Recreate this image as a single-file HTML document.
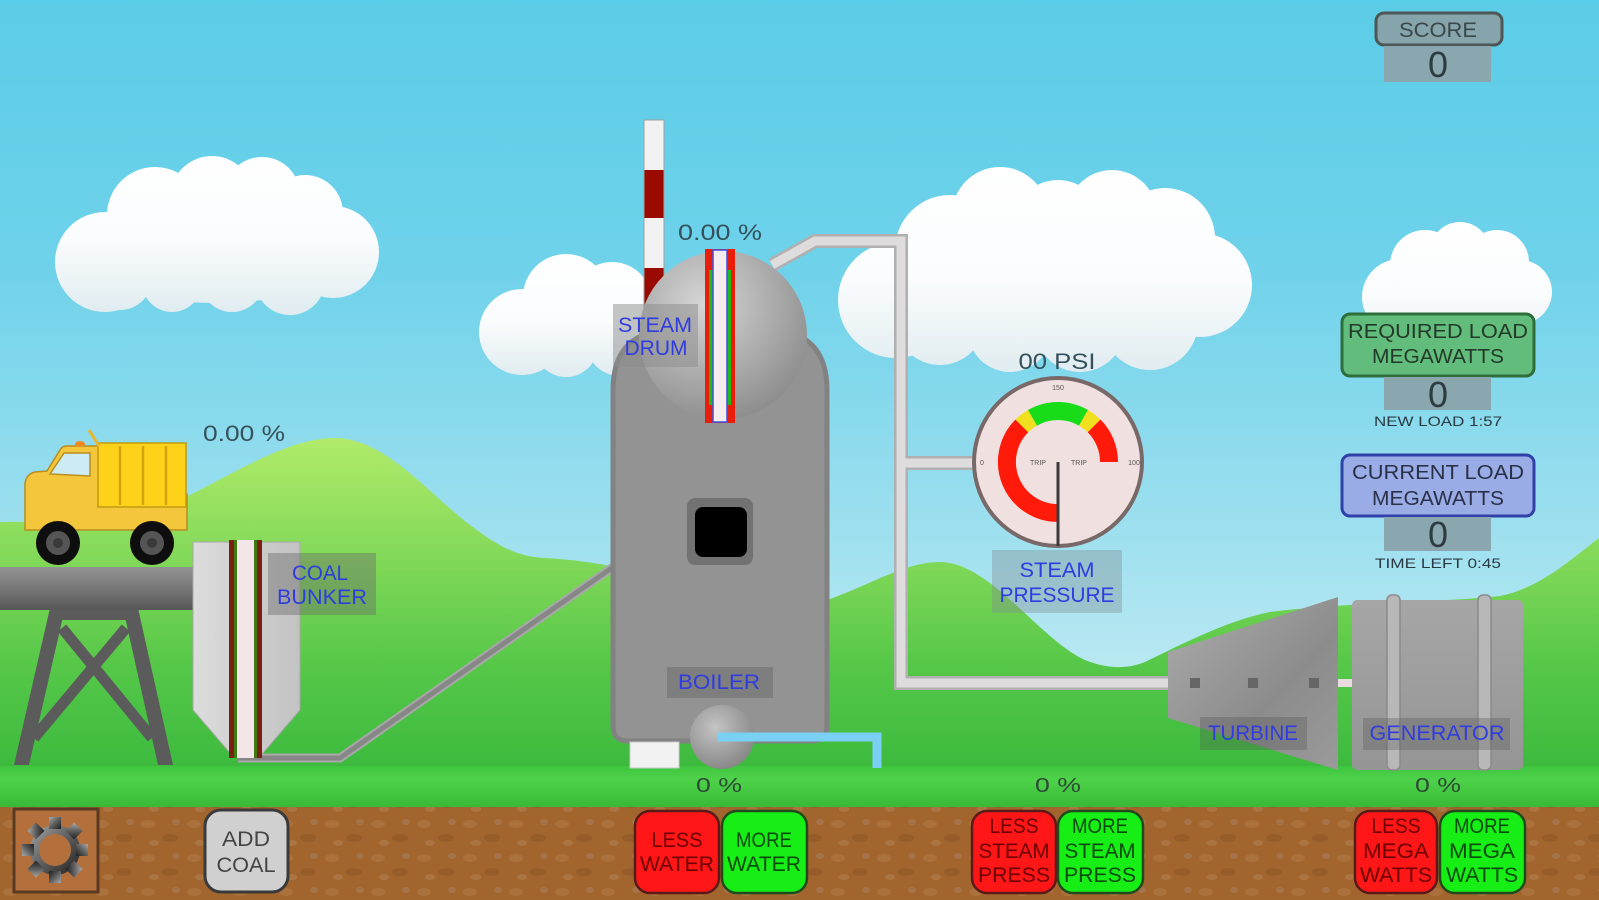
<!DOCTYPE html>
<html><head><meta charset="utf-8"><style>
html,body{margin:0;padding:0;width:1599px;height:900px;overflow:hidden;background:#6fd3ea}
svg{display:block}
text{font-family:"Liberation Sans",Arial,sans-serif}
</style></head><body>
<svg width="1599" height="900" viewBox="0 0 1599 900" xmlns="http://www.w3.org/2000/svg">
<defs>
 <linearGradient id="sky" x1="0" y1="0" x2="0" y2="1">
  <stop offset="0" stop-color="#5BCCE7"/>
  <stop offset="0.3" stop-color="#6FD2EA"/>
  <stop offset="0.6" stop-color="#9FE0EF"/>
  <stop offset="0.85" stop-color="#CDEFF5"/>
  <stop offset="1" stop-color="#DDF4F7"/>
 </linearGradient>
 <linearGradient id="hill" gradientUnits="userSpaceOnUse" x1="0" y1="430" x2="0" y2="770">
  <stop offset="0" stop-color="#B4EC6C"/>
  <stop offset="0.35" stop-color="#86DA5A"/>
  <stop offset="0.7" stop-color="#55C748"/>
  <stop offset="1" stop-color="#3CBA3E"/>
 </linearGradient>
 <linearGradient id="c1" gradientUnits="userSpaceOnUse" x1="0" y1="150" x2="0" y2="312"><stop offset="0" stop-color="#FFFFFF"/><stop offset="0.55" stop-color="#FAFCFD"/><stop offset="1" stop-color="#E0ECF0"/></linearGradient>
 <linearGradient id="c2" gradientUnits="userSpaceOnUse" x1="0" y1="253" x2="0" y2="377"><stop offset="0" stop-color="#FFFFFF"/><stop offset="0.55" stop-color="#FAFCFD"/><stop offset="1" stop-color="#E0ECF0"/></linearGradient>
 <linearGradient id="c3" gradientUnits="userSpaceOnUse" x1="0" y1="166" x2="0" y2="374"><stop offset="0" stop-color="#FFFFFF"/><stop offset="0.55" stop-color="#FAFCFD"/><stop offset="1" stop-color="#E0ECF0"/></linearGradient>
 <linearGradient id="c4" gradientUnits="userSpaceOnUse" x1="0" y1="222" x2="0" y2="345"><stop offset="0" stop-color="#FFFFFF"/><stop offset="0.6" stop-color="#FAFCFD"/><stop offset="1" stop-color="#E4EEF2"/></linearGradient>
 <linearGradient id="grass" x1="0" y1="0" x2="0" y2="1">
  <stop offset="0" stop-color="#3FC43E"/>
  <stop offset="0.3" stop-color="#4ED24A"/>
  <stop offset="0.6" stop-color="#43C740"/>
  <stop offset="1" stop-color="#38B537"/>
 </linearGradient>
 <pattern id="soil" width="46" height="34" patternUnits="userSpaceOnUse">
  <rect width="46" height="34" fill="#A2652D"/>
  <ellipse cx="10" cy="8" rx="7" ry="4" fill="#B07A48" opacity="0.6"/>
  <ellipse cx="32" cy="22" rx="8" ry="4" fill="#8E5828" opacity="0.6"/>
  <ellipse cx="38" cy="6" rx="4" ry="3" fill="#A88468" opacity="0.5"/>
  <ellipse cx="16" cy="27" rx="5" ry="3" fill="#B3855A" opacity="0.5"/>
 </pattern>
 <linearGradient id="beam" x1="0" y1="0" x2="0" y2="1">
  <stop offset="0" stop-color="#939393"/><stop offset="0.5" stop-color="#777"/><stop offset="1" stop-color="#575757"/>
 </linearGradient>
 <linearGradient id="bunk" x1="0" y1="0" x2="1" y2="0">
  <stop offset="0" stop-color="#DCDCDC"/><stop offset="1" stop-color="#C2C2C2"/>
 </linearGradient>
 <radialGradient id="drum" cx="0.38" cy="0.32" r="0.75">
  <stop offset="0" stop-color="#D6D6D6"/><stop offset="0.5" stop-color="#B0B0B0"/><stop offset="1" stop-color="#8A8A8A"/>
 </radialGradient>
 <radialGradient id="pump" cx="0.4" cy="0.35" r="0.7">
  <stop offset="0" stop-color="#C4C4C4"/><stop offset="1" stop-color="#858585"/>
 </radialGradient>
 <linearGradient id="turb" x1="0" y1="0" x2="1" y2="1">
  <stop offset="0" stop-color="#ACACAC"/><stop offset="0.6" stop-color="#8C8C8C"/><stop offset="1" stop-color="#9A9A9A"/>
 </linearGradient>
 <linearGradient id="gen" x1="0" y1="0" x2="0" y2="1">
  <stop offset="0" stop-color="#A6A6A6"/><stop offset="1" stop-color="#959595"/>
 </linearGradient>
 <linearGradient id="gear" x1="0" y1="0" x2="1" y2="1">
  <stop offset="0" stop-color="#A8A8A8"/><stop offset="0.5" stop-color="#5E5E5E"/><stop offset="1" stop-color="#1E1E1E"/>
 </linearGradient>
</defs>

<!-- sky -->
<rect x="0" y="0" width="1599" height="900" fill="url(#sky)"/>

<!-- clouds -->
<g fill="url(#c1)">
 <ellipse cx="215" cy="258" rx="130" ry="45"/>
 <circle cx="105" cy="262" r="50"/>
 <circle cx="155" cy="215" r="48"/>
 <circle cx="212" cy="198" r="42"/>
 <circle cx="262" cy="195" r="38"/>
 <circle cx="305" cy="213" r="38"/>
 <circle cx="333" cy="252" r="46"/>
 <circle cx="290" cy="280" r="35"/>
 <circle cx="232" cy="280" r="32"/>
 <circle cx="172" cy="282" r="30"/>
 <circle cx="120" cy="278" r="32"/>
</g>
<g fill="url(#c2)">
 <circle cx="522" cy="332" r="43"/>
 <circle cx="566" cy="297" r="43"/>
 <circle cx="612" cy="302" r="40"/>
 <circle cx="620" cy="342" r="34"/>
 <circle cx="566" cy="345" r="32"/>
</g>
<g fill="url(#c3)">
 <ellipse cx="1045" cy="288" rx="175" ry="60"/>
 <circle cx="896" cy="300" r="58"/>
 <circle cx="950" cy="250" r="55"/>
 <circle cx="1000" cy="215" r="48"/>
 <circle cx="1058" cy="225" r="45"/>
 <circle cx="1112" cy="215" r="45"/>
 <circle cx="1165" cy="238" r="50"/>
 <circle cx="1200" cy="285" r="52"/>
 <circle cx="1150" cy="322" r="48"/>
 <circle cx="1080" cy="327" r="45"/>
 <circle cx="1010" cy="330" r="42"/>
 <circle cx="940" cy="320" r="45"/>
</g>
<g fill="url(#c4)">
 <circle cx="1400" cy="297" r="38"/>
 <circle cx="1425" cy="265" r="35"/>
 <circle cx="1460" cy="252" r="30"/>
 <circle cx="1497" cy="262" r="32"/>
 <circle cx="1520" cy="292" r="32"/>
 <circle cx="1460" cy="305" r="45"/>
</g>

<!-- hills -->
<path fill="url(#hill)" d="M0,522 C40,520 75,530 110,524 C150,518 168,506 190,495 C240,470 290,438 335,438 C385,438 430,495 470,525 C500,548 520,557 545,558 C580,560 600,564 620,568 L827,600 C870,585 905,562 940,562 C990,562 1040,640 1085,660 C1105,668 1125,670 1145,662 C1190,640 1230,620 1270,612 C1350,602 1450,602 1500,596 C1540,588 1570,560 1599,538 L1599,900 L0,900 Z"/>

<!-- ground -->
<rect x="0" y="766" width="1599" height="44" fill="url(#grass)"/>
<rect x="0" y="807" width="1599" height="93" fill="url(#soil)"/>

<!-- trestle -->
<g fill="#5B5B5B">
 <polygon points="50,608 65,608 29,765 14,765"/>
 <polygon points="123,608 138,608 173,765 158,765"/>
 <rect x="50" y="606" width="88" height="14"/>
</g>
<g stroke="#5B5B5B" stroke-width="11">
 <line x1="62" y1="628" x2="152" y2="738"/>
 <line x1="126" y1="628" x2="34" y2="738"/>
</g>
<rect x="0" y="567" width="194" height="43" fill="url(#beam)"/>

<!-- truck -->
<g stroke="#B88E1E" stroke-width="1.5">
 <path d="M25,530 L25,484 Q26,474 35,472 L47,471 L60,450 Q62,446 67,446 L99,446 L99,494 L187,494 L187,530 Z" fill="#F4C63C"/>
 <polygon points="50,474 64,453 90,453 90,476" fill="#CDEBF5"/>
 <rect x="98" y="443" width="88" height="64" fill="#FFD21A" stroke="#C49A10"/>
 <line x1="89" y1="430" x2="99" y2="446" stroke="#E8B82A" stroke-width="3"/>
</g>
<g stroke="#D1A512" stroke-width="2.5">
 <line x1="120" y1="446" x2="120" y2="505"/>
 <line x1="143" y1="446" x2="143" y2="505"/>
 <line x1="166" y1="446" x2="166" y2="505"/>
</g>
<ellipse cx="80" cy="444" rx="5" ry="3" fill="#F08A20"/>
<g>
 <circle cx="58" cy="543" r="22" fill="#0E0E0E"/><circle cx="58" cy="543" r="12" fill="#555"/><circle cx="58" cy="543" r="5" fill="#3A3A3A"/>
 <circle cx="152" cy="543" r="22" fill="#0E0E0E"/><circle cx="152" cy="543" r="12" fill="#555"/><circle cx="152" cy="543" r="5" fill="#3A3A3A"/>
</g>

<!-- conveyor -->
<polyline points="238,758 340,758 613,567" fill="none" stroke="#A8A8A8" stroke-width="9" stroke-linejoin="round"/>
<polyline points="238,758 340,758 613,567" fill="none" stroke="#878787" stroke-width="5" stroke-linejoin="round"/>

<!-- coal bunker -->
<polygon points="193,542 300,542 300,710 263,753 230,753 193,710" fill="url(#bunk)" stroke="#A8A8A8" stroke-width="1"/>
<rect x="229" y="540" width="33" height="218" fill="#7A2010"/>
<rect x="234" y="540" width="23" height="218" fill="#3F7A12"/>
<rect x="237" y="540" width="17" height="218" fill="#F3E6E8"/>

<!-- chimney -->
<rect x="644" y="120" width="20" height="190" fill="#F2F2F2" stroke="#A0A0A0" stroke-width="1"/>
<rect x="644.5" y="170" width="19" height="48" fill="#9A0A00"/>
<rect x="644.5" y="268" width="19" height="42" fill="#9A0A00"/>

<!-- steam pipe -->
<g fill="none" stroke-linejoin="miter">
 <path d="M772,265 L815,241 L901,241 L901,683 L1170,683 M901,463 L976,463" stroke="#B0B0B0" stroke-width="14"/>
 <path d="M772,265 L815,241 L901,241 L901,683 L1170,683 M901,463 L976,463" stroke="#DEDCDC" stroke-width="9"/>
</g>

<!-- boiler -->
<path d="M613,726 L613,390 Q613,330 673,330 L767,330 Q827,330 827,390 L827,726 Q827,741 812,741 L628,741 Q613,741 613,726 Z" fill="#939393" stroke="#828282" stroke-width="5"/>
<rect x="687" y="498" width="66" height="67" rx="8" fill="#727272"/>
<rect x="695" y="507" width="52" height="50" rx="8" fill="#000"/>
<rect x="630" y="742" width="49" height="26" fill="#F2F2F2" stroke="#C8C8C8" stroke-width="1"/>

<!-- drum -->
<circle cx="723" cy="335" r="84" fill="url(#drum)"/>
<rect x="705" y="249" width="30" height="174" fill="#E81E0A"/>
<rect x="709" y="270" width="22" height="135" fill="#22B81A"/>
<rect x="713" y="250" width="14" height="172" fill="#F4ECEE" stroke="#4050E0" stroke-width="1.5"/>

<!-- pump + water pipe -->
<circle cx="722" cy="737" r="32" fill="url(#pump)"/>
<polyline points="717,737 877,737 877,768" fill="none" stroke="#7ACFF4" stroke-width="9" stroke-linejoin="miter"/>

<!-- gauge -->
<circle cx="1058" cy="462" r="84" fill="#F1E0E0" stroke="#786868" stroke-width="4"/>
<g fill="none" stroke-width="18">
 <path d="M1058,513 A51,51 0 0 1 1021.9,425.9" stroke="#FF1A0A"/>
 <path d="M1021.9,425.9 A51,51 0 0 1 1032.5,417.8" stroke="#F0E020"/>
 <path d="M1032.5,417.8 A51,51 0 0 1 1083.5,417.8" stroke="#18DC18"/>
 <path d="M1083.5,417.8 A51,51 0 0 1 1094.1,425.9" stroke="#F0E020"/>
 <path d="M1094.1,425.9 A51,51 0 0 1 1109,462" stroke="#FF1A0A"/>
</g>
<line x1="1058" y1="462" x2="1058" y2="546" stroke="#3A3A3A" stroke-width="3"/>
<g fill="#555" font-size="7" text-anchor="middle">
 <text x="1038" y="465">TRIP</text>
 <text x="1079" y="465">TRIP</text>
 <text x="982" y="465">0</text>
 <text x="1134" y="465">100</text>
 <text x="1058" y="390">150</text>
</g>

<!-- turbine & generator -->
<rect x="1336" y="679" width="18" height="8" fill="#E8DCE0"/>
<polygon points="1168,652 1338,597 1338,770 1168,718" fill="url(#turb)"/>
<g fill="#666">
 <rect x="1190" y="678" width="10" height="10"/>
 <rect x="1248" y="678" width="10" height="10"/>
 <rect x="1309" y="678" width="10" height="10"/>
</g>
<rect x="1352" y="600" width="171" height="170" rx="5" fill="url(#gen)"/>
<g fill="#B8B8B8" stroke="#8A8A8A" stroke-width="1.5">
 <rect x="1387" y="595" width="13" height="175" rx="5"/>
 <rect x="1478" y="595" width="13" height="175" rx="5"/>
</g>

<!-- labels -->
<rect x="268" y="553" width="108" height="62" fill="rgba(105,105,105,0.42)"/>
<rect x="613" y="304" width="85" height="63" fill="rgba(140,140,140,0.5)"/>
<rect x="667" y="667" width="106" height="31" fill="rgba(80,80,80,0.3)"/>
<rect x="992" y="550" width="130" height="63" fill="rgba(130,140,145,0.38)"/>
<rect x="1200" y="717" width="107" height="33" fill="rgba(80,80,80,0.3)"/>
<rect x="1363" y="718" width="147" height="32" fill="rgba(80,80,80,0.3)"/>
<g fill="#2F3CE0" font-size="21" text-anchor="middle">
 <text x="320" y="580" textLength="56" lengthAdjust="spacingAndGlyphs">COAL</text>
 <text x="322" y="604" textLength="90" lengthAdjust="spacingAndGlyphs">BUNKER</text>
 <text x="655" y="332" textLength="74" lengthAdjust="spacingAndGlyphs">STEAM</text>
 <text x="656" y="355" textLength="63" lengthAdjust="spacingAndGlyphs">DRUM</text>
 <text x="719" y="689" textLength="82" lengthAdjust="spacingAndGlyphs">BOILER</text>
 <text x="1057" y="577" textLength="75" lengthAdjust="spacingAndGlyphs">STEAM</text>
 <text x="1057" y="602" textLength="115" lengthAdjust="spacingAndGlyphs">PRESSURE</text>
 <text x="1253" y="740" textLength="90" lengthAdjust="spacingAndGlyphs">TURBINE</text>
 <text x="1437" y="740" textLength="135" lengthAdjust="spacingAndGlyphs">GENERATOR</text>
</g>

<!-- readouts -->
<g fill="#34525C" font-size="22" text-anchor="middle">
 <text x="244" y="441" textLength="82" lengthAdjust="spacingAndGlyphs">0.00 %</text>
 <text x="720" y="240" textLength="84" lengthAdjust="spacingAndGlyphs">0.00 %</text>
 <text x="1057" y="369" textLength="77" lengthAdjust="spacingAndGlyphs">00 PSI</text>
</g>

<!-- HUD -->
<rect x="1376" y="13" width="126" height="32" rx="8" fill="#86A4AC" stroke="#4E5656" stroke-width="3"/>
<rect x="1384" y="46" width="107" height="36" fill="#8AA6AE"/>
<rect x="1342" y="314" width="192" height="62" rx="8" fill="#62BC7C" stroke="#2E6E3A" stroke-width="3"/>
<rect x="1384" y="377" width="107" height="33" fill="#8AA6AE"/>
<rect x="1342" y="455" width="192" height="61" rx="8" fill="#9AACE6" stroke="#3040A8" stroke-width="3"/>
<rect x="1384" y="517" width="107" height="34" fill="#8AA6AE"/>
<g fill="#2E3C40" text-anchor="middle">
 <text x="1438" y="37" font-size="21" textLength="78" lengthAdjust="spacingAndGlyphs" fill="#3A4848">SCORE</text>
 <text x="1438" y="77" font-size="36">0</text>
 <text x="1438" y="338" font-size="20" textLength="180" lengthAdjust="spacingAndGlyphs" fill="#233A28">REQUIRED LOAD</text>
 <text x="1438" y="363" font-size="20" textLength="132" lengthAdjust="spacingAndGlyphs" fill="#233A28">MEGAWATTS</text>
 <text x="1438" y="407" font-size="36">0</text>
 <text x="1438" y="426" font-size="14" textLength="128" lengthAdjust="spacingAndGlyphs" fill="#2A3A44">NEW LOAD 1:57</text>
 <text x="1438" y="479" font-size="20" textLength="172" lengthAdjust="spacingAndGlyphs" fill="#2A3048">CURRENT LOAD</text>
 <text x="1438" y="505" font-size="20" textLength="132" lengthAdjust="spacingAndGlyphs" fill="#2A3048">MEGAWATTS</text>
 <text x="1438" y="547" font-size="36">0</text>
 <text x="1438" y="568" font-size="14" textLength="126" lengthAdjust="spacingAndGlyphs" fill="#2A3A44">TIME LEFT 0:45</text>
</g>

<!-- percent labels -->
<g fill="#2E4A36" font-size="20" text-anchor="middle">
 <text x="719" y="792" textLength="46" lengthAdjust="spacingAndGlyphs">0 %</text>
 <text x="1058" y="792" textLength="46" lengthAdjust="spacingAndGlyphs">0 %</text>
 <text x="1438" y="792" textLength="46" lengthAdjust="spacingAndGlyphs">0 %</text>
</g>

<!-- settings button -->
<rect x="14" y="809" width="84" height="83" fill="#B3703C" stroke="#5A3A22" stroke-width="3"/>
<g transform="translate(55,850)" fill="url(#gear)">
 <circle r="25"/>
 <rect x="-6" y="-33" width="12" height="12" transform="rotate(0)"/>
 <rect x="-6" y="-33" width="12" height="12" transform="rotate(45)"/>
 <rect x="-6" y="-33" width="12" height="12" transform="rotate(90)"/>
 <rect x="-6" y="-33" width="12" height="12" transform="rotate(135)"/>
 <rect x="-6" y="-33" width="12" height="12" transform="rotate(180)"/>
 <rect x="-6" y="-33" width="12" height="12" transform="rotate(225)"/>
 <rect x="-6" y="-33" width="12" height="12" transform="rotate(270)"/>
 <rect x="-6" y="-33" width="12" height="12" transform="rotate(315)"/>
</g>
<circle cx="55" cy="850" r="16" fill="#B3703C"/>

<!-- add coal -->
<rect x="205" y="810" width="83" height="82" rx="16" fill="#D0D0D0" stroke="#3A3A3A" stroke-width="3"/>
<g fill="#444" font-size="21" text-anchor="middle">
 <text x="246" y="846" textLength="48" lengthAdjust="spacingAndGlyphs">ADD</text>
 <text x="246" y="872" textLength="59" lengthAdjust="spacingAndGlyphs">COAL</text>
</g>

<!-- control buttons -->
<g stroke-width="2.5">
 <rect x="635" y="811" width="84" height="82" rx="15" fill="#FF1616" stroke="#5A1A1A"/>
 <rect x="722" y="811" width="85" height="82" rx="15" fill="#16EE16" stroke="#1E4A1E"/>
 <rect x="972" y="811" width="84" height="82" rx="15" fill="#FF1616" stroke="#5A1A1A"/>
 <rect x="1058" y="811" width="85" height="82" rx="15" fill="#16EE16" stroke="#1E4A1E"/>
 <rect x="1355" y="811" width="82" height="82" rx="15" fill="#FF1616" stroke="#5A1A1A"/>
 <rect x="1440" y="811" width="85" height="82" rx="15" fill="#16EE16" stroke="#1E4A1E"/>
</g>
<g font-size="21" text-anchor="middle">
 <g fill="#6E0000">
  <text x="677" y="847" textLength="51" lengthAdjust="spacingAndGlyphs">LESS</text>
  <text x="677" y="871" textLength="74" lengthAdjust="spacingAndGlyphs">WATER</text>
  <text x="1014" y="833" textLength="49" lengthAdjust="spacingAndGlyphs">LESS</text>
  <text x="1014" y="858" textLength="71" lengthAdjust="spacingAndGlyphs">STEAM</text>
  <text x="1014" y="882" textLength="72" lengthAdjust="spacingAndGlyphs">PRESS</text>
  <text x="1396" y="833" textLength="49" lengthAdjust="spacingAndGlyphs">LESS</text>
  <text x="1396" y="858" textLength="66" lengthAdjust="spacingAndGlyphs">MEGA</text>
  <text x="1396" y="882" textLength="72" lengthAdjust="spacingAndGlyphs">WATTS</text>
 </g>
 <g fill="#0A4A0A">
  <text x="764" y="847" textLength="56" lengthAdjust="spacingAndGlyphs">MORE</text>
  <text x="764" y="871" textLength="74" lengthAdjust="spacingAndGlyphs">WATER</text>
  <text x="1100" y="833" textLength="56" lengthAdjust="spacingAndGlyphs">MORE</text>
  <text x="1100" y="858" textLength="71" lengthAdjust="spacingAndGlyphs">STEAM</text>
  <text x="1100" y="882" textLength="72" lengthAdjust="spacingAndGlyphs">PRESS</text>
  <text x="1482" y="833" textLength="56" lengthAdjust="spacingAndGlyphs">MORE</text>
  <text x="1482" y="858" textLength="66" lengthAdjust="spacingAndGlyphs">MEGA</text>
  <text x="1482" y="882" textLength="72" lengthAdjust="spacingAndGlyphs">WATTS</text>
 </g>
</g>
</svg>
</body></html>
